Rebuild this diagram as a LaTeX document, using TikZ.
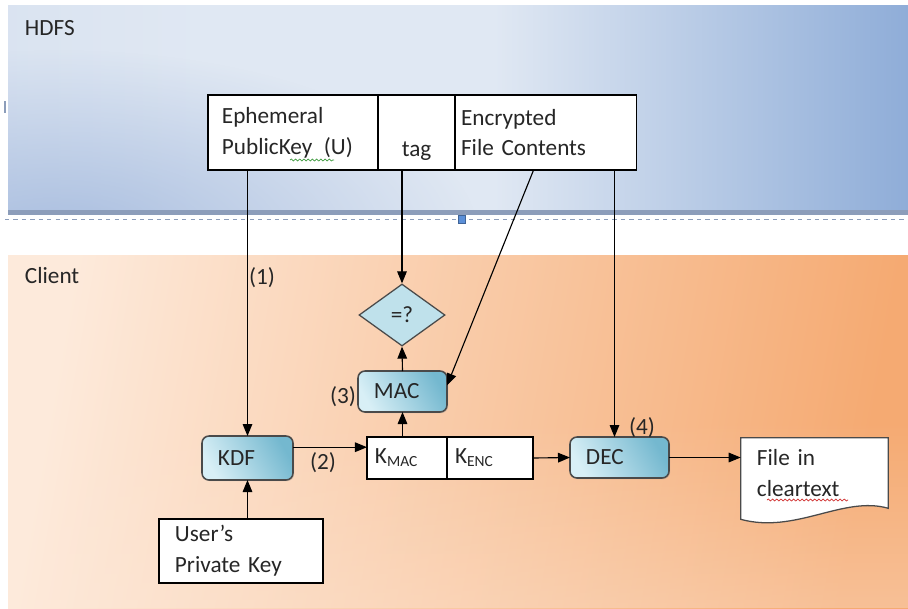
\documentclass[tikz,border=0pt]{standalone}
\usepackage{fontspec}
\setmainfont{Carlito}
\usetikzlibrary{shapes.geometric, arrows.meta, positioning, fadings, shadows, backgrounds, calc, decorations.pathmorphing}

\definecolor{hdfsLight}{HTML}{E0E8F3}
\definecolor{hdfsDark}{HTML}{8FADD8}
\definecolor{hdfsLow}{HTML}{A3B9DD}
\definecolor{hdfsEdge}{HTML}{8C9DBA}
\definecolor{clientLight}{HTML}{FDEADB}
\definecolor{clientDark}{HTML}{F5AA72}
\definecolor{procLight}{HTML}{D8EFF6}
\definecolor{procDark}{HTML}{74B8CF}
\definecolor{procLine}{HTML}{4A4A4A}
\definecolor{diaFill}{HTML}{BFE1EB}
\definecolor{inkGray}{HTML}{262626}
\definecolor{handleBlue}{HTML}{5B8FD8}
\definecolor{waveGreen}{HTML}{3E9A3E}
\definecolor{waveRed}{HTML}{D03030}

\pgfdeclarehorizontalshading{hdfsfade}{100bp}{color(0bp)=(hdfsLight); color(25bp)=(hdfsLight!90!hdfsLow);
  color(36bp)=(hdfsLight); color(52bp)=(hdfsLight); color(75bp)=(hdfsDark); color(100bp)=(hdfsDark)}
\tikzfading[name=softblob, inner color=transparent!0, outer color=transparent!100]

\begin{document}
\begin{tikzpicture}[
    x=0.025cm, y=-0.025cm,
    font=\fontsize{16.5}{22}\selectfont, text=inkGray,
    cell/.style={rectangle, draw=black, fill=white, line width=0.8pt, outer sep=0pt, inner sep=0pt, align=left},
    proc/.style={rectangle, draw=procLine, line width=1.1pt, rounded corners=5pt, outer sep=0pt,
        left color=procLight, right color=procDark, shading angle=120,
        drop shadow={opacity=0.3, shadow xshift=0.8pt, shadow yshift=-0.8pt},
        inner xsep=0.4cm, align=left},
    decision/.style={diamond, draw=procLine, line width=0.9pt, fill=diaFill, inner sep=0pt,
        minimum width=2.15cm, minimum height=1.55cm},
    lbl/.style={inner sep=1pt},
    arrow/.style={-{Triangle[length=0.3cm, width=0.24cm]}, line width=0.8pt},
    squiggle/.style={line width=0.5pt, decorate, decoration={snake, amplitude=0.7pt, segment length=3pt}}
]
    \useasboundingbox (0,0) rectangle (908,608);

    % panels
    \begin{pgfonlayer}{background}
        \shade[shading=hdfsfade] (8,5) rectangle (908,213);
        \begin{scope}
            \clip (8,5) rectangle (908,213);
            \fill[hdfsLow, path fading=softblob, fill opacity=0.9] (60,240) ellipse (420 and 190);
        \end{scope}
        \fill[hdfsEdge] (8,210) rectangle (908,215);
        \draw[hdfsEdge, dashed, line width=0.6pt] (5,219) -- (908,219);
        \draw[hdfsEdge, line width=1pt] (5,101) -- (5,113);
        \filldraw[fill=handleBlue, draw=handleBlue!70!black, line width=0.4pt] (458.5,215) rectangle (465.5,223);
        \shade[left color=clientLight, right color=clientDark, shading angle=80] (8,255) rectangle (908,608);
        \fill[clientLight, path fading=north, fill opacity=0.35] (8,420) rectangle (908,608);
    \end{pgfonlayer}

    \node[anchor=west] (hdfslbl) at (20,28) {HDFS};
    \node[anchor=west] (clientlbl) at (20,276) {Client};

    % what HDFS holds
    \node[cell, minimum width=4.25cm, minimum height=1.875cm, text width=3.55cm, inner xsep=0.35cm] (ephem) at (293,132.5)
        {Ephemeral\\PublicKey\ \,(U)};
    \node[cell, right=0pt of ephem, minimum width=1.925cm, minimum height=1.875cm, text width=1.925cm, align=center] (tagcell)
        {\strut\\tag};
    \node[cell, right=0pt of tagcell, minimum width=4.525cm, minimum height=1.875cm, text width=4.225cm, inner xsep=0.15cm] (enc)
        {Encrypted\\File Contents};
    \draw[squiggle, waveGreen] (290,160) -- (334,160);

    % client side
    \node[decision] (check) at (402,315) {=?};
    \node[proc, minimum height=1.025cm, text width=1.425cm] (mac) at (402.5,391.5) {MAC};
    \node[proc, minimum height=1.1cm, text width=1.475cm] (kdf) at (247.5,458) {KDF};
    \node[cell, minimum width=2cm, minimum height=1.05cm, text width=1.6cm, inner xsep=0.2cm] (kmac) at (407,458)
        {K\raisebox{-2pt}{\fontsize{11}{11}\selectfont MAC}};
    \node[cell, right=0pt of kmac, minimum width=2.15cm, minimum height=1.05cm, text width=1.75cm, inner xsep=0.2cm] (kenc)
        {K\raisebox{-2pt}{\fontsize{11}{11}\selectfont ENC}};
    \node[proc, minimum height=1.025cm, text width=1.675cm] (dec) at (619.5,457.5) {DEC};
    \node[cell, minimum width=3.7cm, minimum height=1.6cm, text width=3.3cm, inner xsep=0.4cm] (userkey) at (241,551)
        {User’s\\Private Key};
    \node[minimum height=1.75cm, text width=2.875cm, inner xsep=0.4cm, align=left] (file) at (814.5,473)
        {File in\\cleartext};
    \begin{pgfonlayer}{background}
        \filldraw[fill=white, draw=procLine, line width=0.9pt] (file.south west) -- (file.north west) -- (file.north east)
            -- (file.south east) .. controls ($(file.south east)+(-45,-13)$) and ($(file.south west)+(55,26)$)
            .. ($(file.south west)+(0,11)$) -- cycle;
    \end{pgfonlayer}
    \draw[squiggle, waveRed] (767,500) -- (848,500);

    \node[lbl] (n1) at (262,278) {(1)};
    \node[lbl] (n2) at (323,463) {(2)};
    \node[lbl] (n3) at (343,397) {(3)};
    \node[lbl] (n4) at (642,428) {(4)};

    % connectors
    \draw[arrow] (ephem.south -| kdf.north) -- (kdf.north);
    \draw[arrow] (tagcell.south -| check.north) -- (check.north);
    \draw[arrow] ($(enc.south)+(-12,0)$) -- ($(mac.east)+(0,-6)$);
    \draw[arrow] ($(enc.south -| dec.north)+(-5,0)$) -- ($(dec.north)+(-5,0)$);
    \draw[arrow] (mac.north) -- (check.south);
    \draw[arrow] (kmac.north -| mac.south) -- (mac.south);
    \draw[arrow] (userkey.north -| kdf.south) -- (kdf.south);
    \draw[arrow] ([yshift=0.27cm]kdf.east) -- ([yshift=0.27cm]kdf.east -| kmac.west);
    \draw[arrow] (kenc.east) -- (dec.west);
    \draw[arrow] (dec.east) -- (dec.east -| file.west);
\end{tikzpicture}
\end{document}
